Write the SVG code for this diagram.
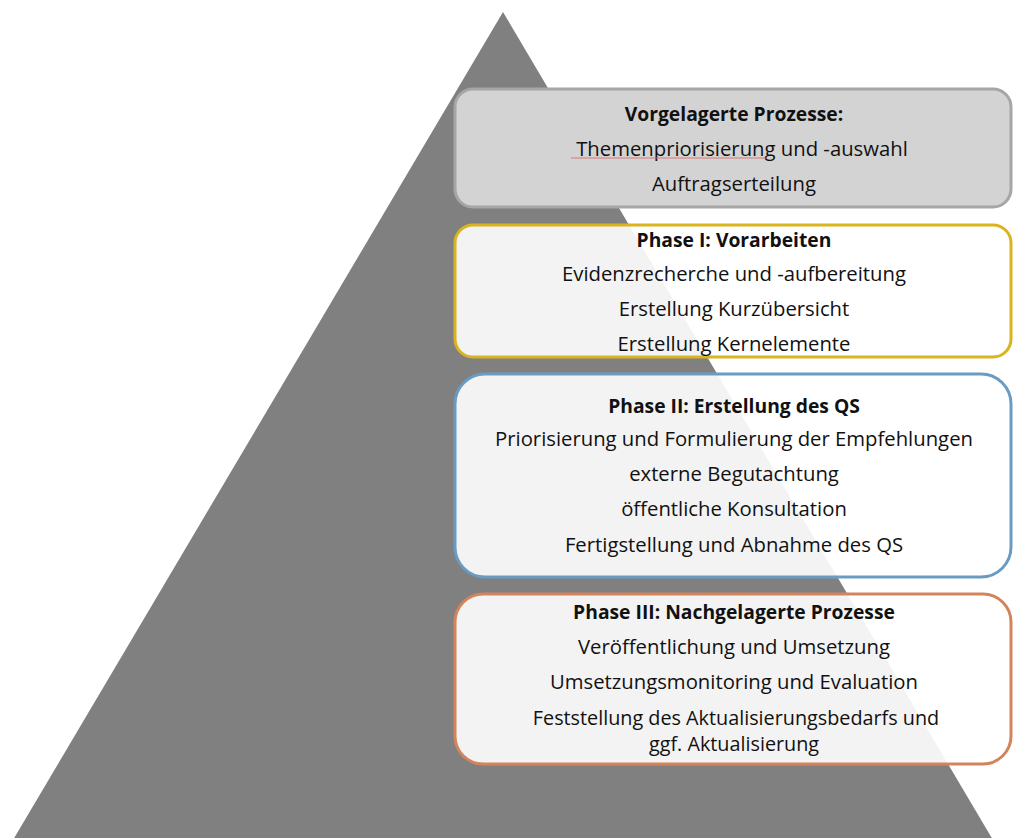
<svg xmlns="http://www.w3.org/2000/svg" width="1013" height="838" viewBox="0 0 1013 838">
  <style>
    .box { stroke-width: 3; }
    .t { font-family: "Open Sans", "Noto Sans", "Liberation Sans", sans-serif; font-size: 20.3px; fill: #111; text-anchor: middle; }
    .h { font-weight: bold; font-size: 19.3px; }
    .w { font-size: 19.8px; }
  </style>
  <rect width="1013" height="838" fill="#ffffff"/>
  <!-- background pyramid -->
  <polygon id="pyramid" points="503,12 13,840 993,840" fill="#808080"/>

  <g id="pre">
    <rect class="box" x="455" y="89" width="556" height="118" rx="18" fill="#d3d3d3" stroke="#a6a6a6"/>
    <text class="t h" x="734" y="121">Vorgelagerte Prozesse:</text>
    <text class="t" x="742" y="156">Themenpriorisierung und -auswahl</text>
    <line x1="571" y1="158" x2="767" y2="158" stroke="#e06060" stroke-width="0.8"/>
    <text class="t" x="734" y="191">Auftragserteilung</text>
  </g>

  <g id="phase1">
    <rect class="box" x="455" y="225" width="556" height="132" rx="18" fill="#ffffff" fill-opacity="0.9" stroke="#d9b41e"/>
    <text class="t h" x="734" y="247">Phase I: Vorarbeiten</text>
    <text class="t" x="734" y="281">Evidenzrecherche und -aufbereitung</text>
    <text class="t" x="734" y="316">Erstellung Kurzübersicht</text>
    <text class="t" x="734" y="351">Erstellung Kernelemente</text>
  </g>

  <g id="phase2">
    <rect class="box" x="455" y="374" width="556" height="203" rx="30" fill="#ffffff" fill-opacity="0.9" stroke="#6a9bc3"/>
    <text class="t h" x="734" y="413">Phase II: Erstellung des QS</text>
    <text class="t" x="734" y="446">Priorisierung und Formulierung der Empfehlungen</text>
    <text class="t" x="734" y="481">externe Begutachtung</text>
    <text class="t" x="734" y="516">öffentliche Konsultation</text>
    <text class="t" x="734" y="552">Fertigstellung und Abnahme des QS</text>
  </g>

  <g id="phase3">
    <rect class="box" x="455" y="594" width="556" height="170" rx="28" fill="#ffffff" fill-opacity="0.9" stroke="#d4845a"/>
    <text class="t h" x="734" y="619">Phase III: Nachgelagerte Prozesse</text>
    <text class="t" x="734" y="654">Veröffentlichung und Umsetzung</text>
    <text class="t" x="734" y="689">Umsetzungsmonitoring und Evaluation</text>
    <text class="t w" x="736" y="725">Feststellung des Aktualisierungsbedarfs und</text>
    <text class="t w" x="734" y="751">ggf. Aktualisierung</text>
  </g>

  <g id="connectors"/>
</svg>
